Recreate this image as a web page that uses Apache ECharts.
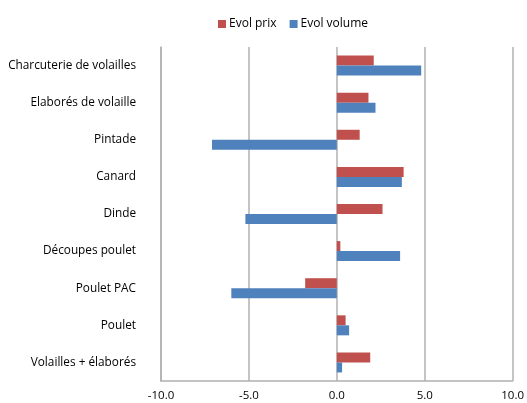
<!DOCTYPE html>
<html>
<head>
<meta charset="utf-8">
<script src="https://cdn.jsdelivr.net/npm/echarts@6/dist/echarts.min.js"></script>
<style>
  html, body { margin: 0; padding: 0; background: #fff; }
  #chart { width: 527px; height: 403px; }
</style>
</head>
<body>
<div id="chart"></div>
<script>
// Categories listed bottom to top
var categories = [
  'Volailles + élaborés',
  'Poulet',
  'Poulet PAC',
  'Découpes poulet',
  'Dinde',
  'Canard',
  'Pintade',
  'Elaborés de volaille',
  'Charcuterie de volailles'
];
var evolPrix = [1.9, 0.5, -1.8, 0.2, 2.6, 3.8, 1.3, 1.8, 2.1];
var evolVolume = [0.3, 0.7, -6.0, 3.6, -5.2, 3.7, -7.1, 2.2, 4.8];
var seriesNames = ['Evol prix', 'Evol volume'];

var FONT = 'Open Sans';
var chart = echarts.init(document.getElementById('chart'));
chart.setOption({
  animation: false,
  textStyle: { fontFamily: FONT },
  legend: {
    data: seriesNames,
    top: 13,
    left: 213,
    itemWidth: 8,
    itemHeight: 8,
    itemGap: 13,
    icon: 'rect',
    textStyle: { fontFamily: FONT, fontSize: 12, color: '#000', padding: [0, 0, 0, -2] }
  },
  grid: { left: 161, right: 12, top: 47, bottom: 22 },
  xAxis: {
    type: 'value',
    min: -10, max: 10, interval: 5,
    axisLine: { show: true, onZero: false, lineStyle: { color: '#b0b0b0', width: 1.5 } },
    axisTick: { show: false },
    splitLine: { show: true, lineStyle: { color: '#b0b0b0', width: 1.5 } },
    axisLabel: {
      color: '#000', fontFamily: FONT, fontSize: 11.5, margin: 9,
      formatter: function (v) { return v.toFixed(1); }
    }
  },
  yAxis: {
    type: 'category',
    data: categories,
    axisLine: { show: true, onZero: false, lineStyle: { color: '#b0b0b0', width: 1.5 } },
    axisTick: { show: false },
    axisLabel: { color: '#000', fontFamily: FONT, fontSize: 11.8, margin: 25 }
  },
  series: [
    {
      name: seriesNames[0], type: 'bar', data: evolPrix,
      barWidth: 10, barGap: '0%',
      itemStyle: { color: '#C0504D' }
    },
    {
      name: seriesNames[1], type: 'bar', data: evolVolume,
      barWidth: 10, barGap: '0%',
      itemStyle: { color: '#4F81BD' }
    }
  ]
});
</script>
</body>
</html>
